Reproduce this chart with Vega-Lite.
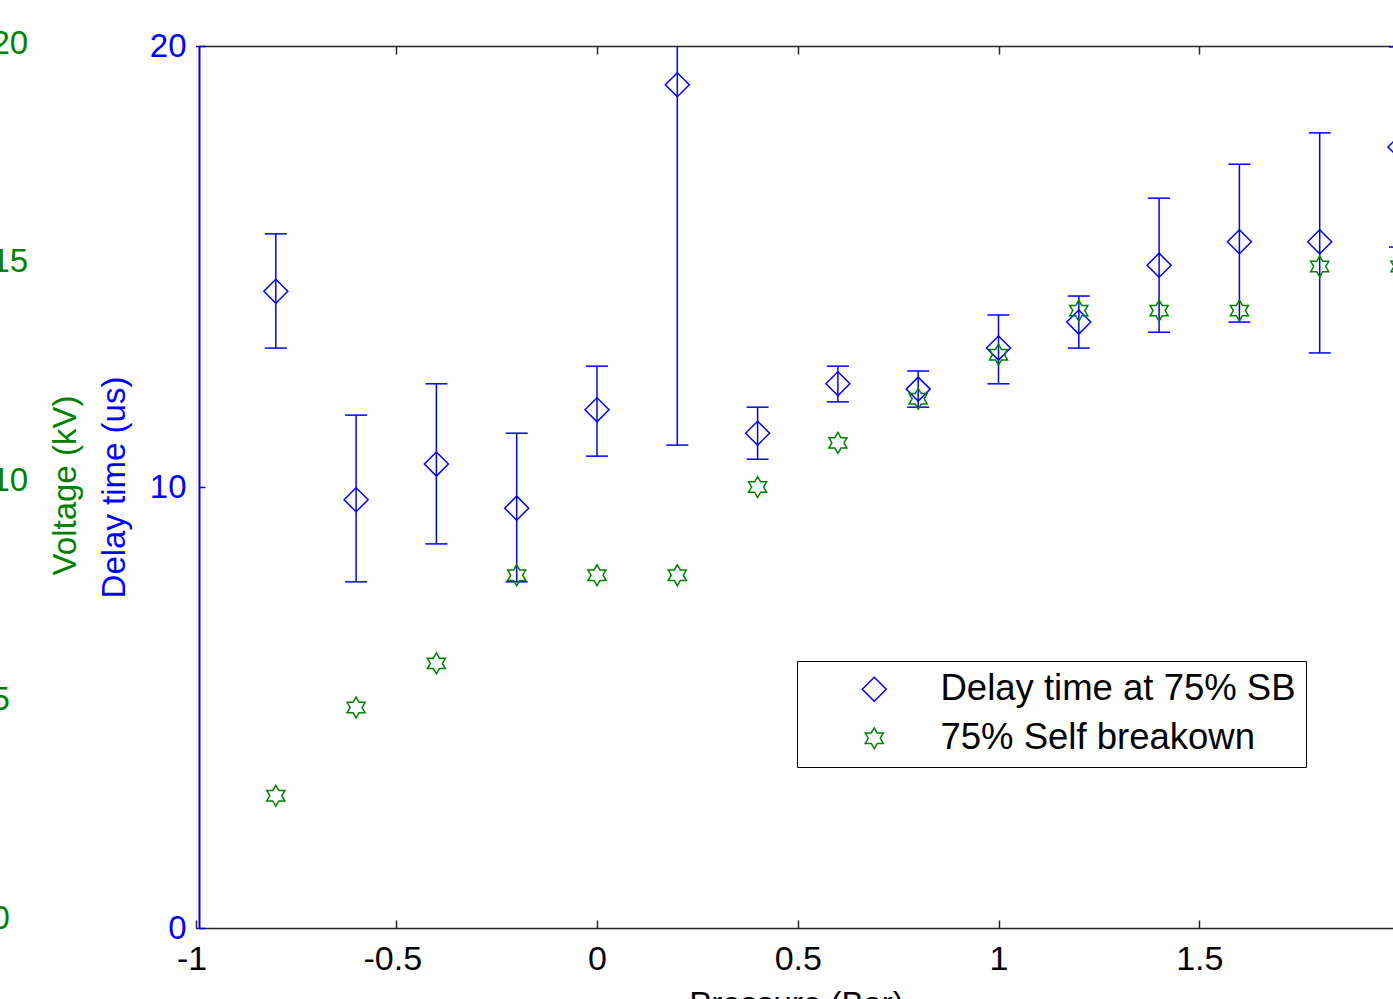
{
"$schema": "https://vega.github.io/schema/vega-lite/v6.json",
"width": 1194,
"height": 882,
"autosize": {"type": "none"},
"padding": {"left": 199, "top": 46, "right": 0, "bottom": 71},
"background": "#ffffff",
"config": {
  "view": {"stroke": null},
  "font": "Liberation Sans",
  "axis": {"grid": false, "titleFontWeight": "normal", "labelFont": "Liberation Sans", "titleFont": "Liberation Sans"}
},
"data": {"values": [
  {"p": -0.8, "series": "Delay time at 75% SB", "value": 14.44, "lo": 13.15, "hi": 15.74},
  {"p": -0.6, "series": "Delay time at 75% SB", "value": 9.71, "lo": 7.85, "hi": 11.63},
  {"p": -0.4, "series": "Delay time at 75% SB", "value": 10.52, "lo": 8.71, "hi": 12.34},
  {"p": -0.2, "series": "Delay time at 75% SB", "value": 9.52, "lo": 7.85, "hi": 11.22},
  {"p": 0.0, "series": "Delay time at 75% SB", "value": 11.75, "lo": 10.70, "hi": 12.74},
  {"p": 0.2, "series": "Delay time at 75% SB", "value": 19.12, "lo": 10.95, "hi": 27.29},
  {"p": 0.4, "series": "Delay time at 75% SB", "value": 11.22, "lo": 10.63, "hi": 11.81},
  {"p": 0.6, "series": "Delay time at 75% SB", "value": 12.34, "lo": 11.93, "hi": 12.74},
  {"p": 0.8, "series": "Delay time at 75% SB", "value": 12.22, "lo": 11.81, "hi": 12.63},
  {"p": 1.0, "series": "Delay time at 75% SB", "value": 13.15, "lo": 12.34, "hi": 13.90},
  {"p": 1.2, "series": "Delay time at 75% SB", "value": 13.74, "lo": 13.15, "hi": 14.33},
  {"p": 1.4, "series": "Delay time at 75% SB", "value": 15.03, "lo": 13.51, "hi": 16.55},
  {"p": 1.6, "series": "Delay time at 75% SB", "value": 15.56, "lo": 13.74, "hi": 17.32},
  {"p": 1.8, "series": "Delay time at 75% SB", "value": 15.56, "lo": 13.04, "hi": 18.03},
  {"p": 2.0, "series": "Delay time at 75% SB", "value": 17.71, "lo": 15.44, "hi": 19.98},
  {"p": -0.8, "series": "75% Self breakown", "value": 3},
  {"p": -0.6, "series": "75% Self breakown", "value": 5},
  {"p": -0.4, "series": "75% Self breakown", "value": 6},
  {"p": -0.2, "series": "75% Self breakown", "value": 8},
  {"p": 0.0, "series": "75% Self breakown", "value": 8},
  {"p": 0.2, "series": "75% Self breakown", "value": 8},
  {"p": 0.4, "series": "75% Self breakown", "value": 10},
  {"p": 0.6, "series": "75% Self breakown", "value": 11},
  {"p": 0.8, "series": "75% Self breakown", "value": 12},
  {"p": 1.0, "series": "75% Self breakown", "value": 13},
  {"p": 1.2, "series": "75% Self breakown", "value": 14},
  {"p": 1.4, "series": "75% Self breakown", "value": 14},
  {"p": 1.6, "series": "75% Self breakown", "value": 14},
  {"p": 1.8, "series": "75% Self breakown", "value": 15},
  {"p": 2.0, "series": "75% Self breakown", "value": 15}
]},
"layer": [
  {"layer": [
    {"transform": [{"filter": "datum.series === 'Delay time at 75% SB'"}],
     "mark": {"type": "rule", "color": "#0000ff", "strokeWidth": 1.5, "clip": true},
     "encoding": {
       "x": {"field": "p", "type": "quantitative", "scale": {"domain": [-1, 2], "range": [-3.5, 1201], "nice": false, "zero": false},
             "axis": {"orient": "bottom", "values": [-1, -0.5, 0, 0.5, 1, 1.5], "labelExpr": "'' + datum.value", "labelOffset": {"condition": {"test": "datum.value < 0", "value": -4}, "value": 0}, "domainColor": "#262626", "domainWidth": 1.5, "tickColor": "#262626", "tickSize": -8, "tickWidth": 1.5, "labelColor": "#000000", "labelFontSize": 34, "labelPadding": 22, "labelFlush": false, "labelOverlap": false, "labelBound": false, "title": "Pressure (Bar)", "titleFontSize": 33, "titleColor": "#000000", "titlePadding": 12, "titleX": 597}},
       "y": {"field": "lo", "type": "quantitative", "title": "Delay time (us)", "scale": {"domain": [0, 20], "nice": false, "zero": false},
             "axis": {"orient": "left", "values": [0, 10, 20], "domainColor": "#0000ff", "domainWidth": 2, "tickColor": "#0000ff", "tickSize": -6, "tickWidth": 1.5, "labelColor": "#0000ff", "labelFontSize": 33, "labelPadding": 19, "labelOverlap": false, "labelFlush": false, "titleColor": "#0000ff", "titleFontSize": 33, "titleX": -85, "titleY": 441, "titleBaseline": "middle", "titleAngle": 270}},
       "y2": {"field": "hi"}
     }},
    {"transform": [{"filter": "datum.series === 'Delay time at 75% SB'"}],
     "mark": {"type": "point", "shape": "stroke", "size": 484, "color": "#0000ff", "strokeWidth": 1.5, "opacity": 1, "clip": true},
     "encoding": {
       "x": {"field": "p", "type": "quantitative"},
       "y": {"field": "lo", "type": "quantitative", "title": "Delay time (us)"}
     }},
    {"transform": [{"filter": "datum.series === 'Delay time at 75% SB'"}],
     "mark": {"type": "point", "shape": "stroke", "size": 484, "color": "#0000ff", "strokeWidth": 1.5, "opacity": 1, "clip": true},
     "encoding": {
       "x": {"field": "p", "type": "quantitative"},
       "y": {"field": "hi", "type": "quantitative", "title": "Delay time (us)"}
     }},
    {"mark": {"type": "point", "filled": false, "size": 576, "strokeWidth": 1.5, "opacity": 1, "clip": true},
     "encoding": {
       "x": {"field": "p", "type": "quantitative"},
       "y": {"field": "value", "type": "quantitative", "title": "Delay time (us)"},
       "shape": {"field": "series", "type": "nominal",
                 "scale": {"domain": ["Delay time at 75% SB", "75% Self breakown"], "range": ["diamond", "M0,-0.87L0.251,-0.435L0.753,-0.435L0.502,0L0.753,0.435L0.251,0.435L0,0.87L-0.251,0.435L-0.753,0.435L-0.502,0L-0.753,-0.435L-0.251,-0.435Z"]},
                 "legend": {"orient": "none", "legendX": 598, "legendY": 615, "title": null, "strokeColor": "#000000", "fillColor": "#ffffff", "padding": 10, "labelFontSize": 36.5, "labelLimit": 0, "labelColor": "#000000", "labelFont": "Liberation Sans", "symbolSize": 576, "symbolStrokeWidth": 1.5, "symbolOffset": 49, "labelOffset": 48, "rowPadding": 12, "direction": "vertical"}},
       "color": {"field": "series", "type": "nominal",
                 "scale": {"domain": ["Delay time at 75% SB", "75% Self breakown"], "range": ["#0000ff", "#008000"]},
                 "legend": {"orient": "none", "legendX": 598, "legendY": 615, "title": null, "strokeColor": "#000000", "fillColor": "#ffffff", "padding": 10, "labelFontSize": 36.5, "labelLimit": 0, "labelColor": "#000000", "labelFont": "Liberation Sans", "symbolSize": 576, "symbolStrokeWidth": 1.5, "symbolOffset": 49, "labelOffset": 48, "rowPadding": 12, "direction": "vertical"}}
     }}
  ]},
  {"mark": {"type": "point", "opacity": 0},
   "encoding": {
     "x": {"field": "p", "type": "quantitative", "scale": {"domain": [-1, 2], "range": [-3.5, 1201], "nice": false, "zero": false},
           "axis": {"orient": "top", "labels": false, "title": null, "values": [-0.5, 0, 0.5, 1, 1.5], "domainColor": "#262626", "domainWidth": 1.5, "tickColor": "#262626", "tickSize": -8, "tickWidth": 1.5}},
     "y": {"field": "value", "type": "quantitative", "scale": {"domain": [0, 20], "range": [872, -3], "nice": false, "zero": false},
           "axis": {"orient": "left", "offset": 208, "values": [0, 5, 10, 15, 20], "domain": false, "ticks": false, "labelAlign": "left", "labelColor": "#008000", "labelFontSize": 33, "labelPadding": 0, "labelOverlap": false, "labelFlush": false, "labelBound": false, "title": "Voltage (kV)", "titleColor": "#008000", "titleFontSize": 33, "titleX": 74, "titleY": 439, "titleBaseline": "middle", "titleAngle": 270}}
   }}
],
"resolve": {"scale": {"y": "independent"}, "axis": {"x": "independent", "y": "independent"}}
}
